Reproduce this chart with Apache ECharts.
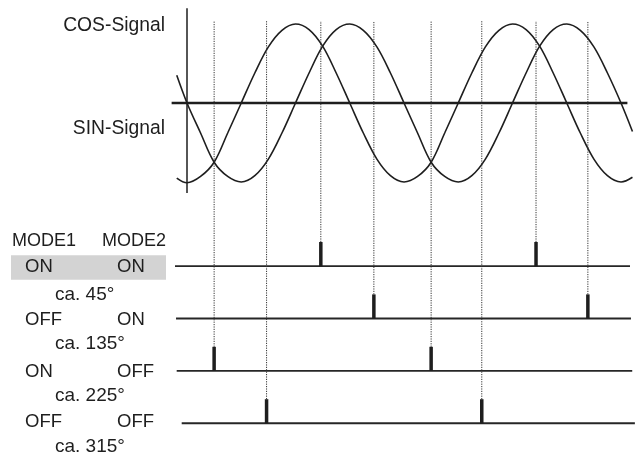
<!DOCTYPE html>
<html>
<head>
<meta charset="utf-8">
<script src="https://cdn.jsdelivr.net/npm/echarts@6/dist/echarts.min.js"></script>
<style>html,body{margin:0;padding:0;background:#fff}#c{width:635px;height:459px}</style>
</head>
<body>
<div id="c"></div>
<script>
// ---- data (angles in degrees, signals in units of amplitude) ----
const angles = [-17, 0, 22.5, 45, 67.5, 90, 112.5, 135, 157.5, 180, 202.5, 225, 247.5, 270, 292.5, 315, 337.5,
  360, 382.5, 405, 427.5, 450, 472.5, 495, 517.5, 540, 562.5, 585, 607.5, 630, 652.5, 675, 697.5, 720, 739];
const sinSignal = [0.35, 0, -0.38, -0.75, -0.93, -1, -0.92, -0.71, -0.38, 0, 0.38, 0.72, 0.93, 1, 0.92, 0.71, 0.38,
  0, -0.38, -0.75, -0.93, -1, -0.92, -0.71, -0.38, 0, 0.38, 0.72, 0.93, 1, 0.92, 0.71, 0.38, 0, -0.36];
const cosSignal = [-0.95, -1.01, -0.93, -0.75, -0.38, 0, 0.38, 0.71, 0.92, 1, 0.93, 0.72, 0.38, 0, -0.38, -0.71, -0.92,
  -1, -0.93, -0.75, -0.38, 0, 0.38, 0.71, 0.92, 1, 0.93, 0.72, 0.38, 0, -0.38, -0.71, -0.92, -1, -0.94];

const modeHeaders = ['MODE1', 'MODE2'];
const mode1 = ['ON', 'OFF', 'ON', 'OFF'];
const mode2 = ['ON', 'ON', 'OFF', 'OFF'];
const angleLabels = ['ca. 45°', 'ca. 135°', 'ca. 225°', 'ca. 315°'];
const rowLevels = [4, 3, 2, 1];                       // ON/ON, OFF/ON, ON/OFF, OFF/OFF
const pulseAngles = [[222, 579], [310, 665], [45, 405], [132, 489]];
const rowStart = [-19.9, -18.2, -17.1, -8.8];
const rowEnd = [734.9, 736.5, 738.6, 743];
const signalLabels = ['COS-Signal', 'SIN-Signal'];

// ---- layout ----
const W = 635, H = 459;
const ORIGIN_X = 187, PX_PER_DEG = 0.6028;
const SIG_CENTER = 103, SIG_AMP = 79;
const ROW1_Y = 423.3, ROW_STEP = 52.4;
const PULSE_H = 0.46;
const DOT_TOP = 1 + (ROW1_Y - 21) / ROW_STEP;
const INK = '#1e1e1e';
const FONT = "'Liberation Sans', Arial, sans-serif";
const FS = 18.5;

const series = [];
const lineSer = (data, yIdx, style) => ({
  type: 'line', data, xAxisIndex: 0, yAxisIndex: yIdx, showSymbol: false, symbol: 'none',
  silent: true, animation: false, lineStyle: style, clip: false
});
// axis lines
series.push(lineSer([[-25.5, 0], [730.6, 0]], 0, {color: INK, width: 2.3}));
series.push(lineSer([[0, -1.14], [0, 1.2]], 0, {color: INK, width: 1.5}));
// signals
series.push(Object.assign(lineSer(angles.map((a, i) => [a, sinSignal[i]]), 0, {color: INK, width: 1.6}), {smooth: 0.35}));
series.push(Object.assign(lineSer(angles.map((a, i) => [a, cosSignal[i]]), 0, {color: INK, width: 1.6}), {smooth: 0.35}));
// rows
rowLevels.forEach((r, i) => {
  series.push(lineSer([[rowStart[i], r], [rowEnd[i], r]], 1, {color: '#262626', width: 1.9}));
  pulseAngles[i].forEach(a => {
    series.push(lineSer([[a, r + PULSE_H], [a, DOT_TOP]], 1, {color: '#333', width: 1, type: [1.2, 1.2]}));
    series.push(lineSer([[a, r], [a, r + PULSE_H]], 1, {color: INK, width: 3.5, cap: 'butt'}));
  });
});

// ---- text ----
const txt = (text, x, y, align, fs) => ({
  type: 'text', x, y, z: 100, silent: true,
  style: {text, fill: INK, font: (fs || FS) + 'px ' + FONT, textAlign: align || 'left', textVerticalAlign: 'middle'}
});
const graphics = [
  {type: 'rect', shape: {x: 11, y: 255.3, width: 155, height: 24.4}, style: {fill: '#d3d3d3'}, z: 1, silent: true},
  txt(signalLabels[0], 165, 26, 'right', 19.3),
  txt(signalLabels[1], 165, 129, 'right', 19.3),
  txt(modeHeaders[0], 12, 241.5, 'left', 18),
  txt(modeHeaders[1], 102, 241.5, 'left', 18)
];
const rowTextY = [267, 319.5, 371.5, 422];
const caY = [294.5, 344, 395.5, 447];
mode1.forEach((m, i) => {
  graphics.push(txt(m, 25, rowTextY[i]));
  graphics.push(txt(mode2[i], 117, rowTextY[i]));
  graphics.push(txt(angleLabels[i], 55, caY[i], 'left', 19));
});

const chart = echarts.init(document.getElementById('c'), null, {renderer: 'canvas'});
chart.setOption({
  animation: false,
  backgroundColor: '#fff',
  grid: {left: 0, right: 0, top: 0, bottom: 0},
  xAxis: {type: 'value', show: false, min: -ORIGIN_X / PX_PER_DEG, max: (W - ORIGIN_X) / PX_PER_DEG},
  yAxis: [
    {type: 'value', show: false, min: (SIG_CENTER - H) / SIG_AMP, max: SIG_CENTER / SIG_AMP},
    {type: 'value', show: false, min: 1 - (H - ROW1_Y) / ROW_STEP, max: 1 + ROW1_Y / ROW_STEP}
  ],
  series,
  graphic: graphics
});
</script>
</body>
</html>
